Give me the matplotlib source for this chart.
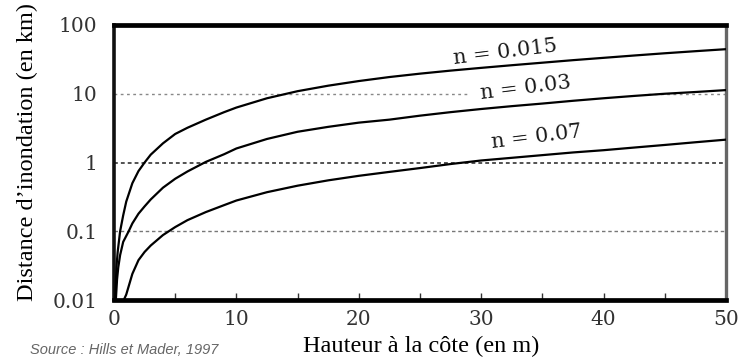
import matplotlib.pyplot as plt
from matplotlib.ticker import FixedLocator, FixedFormatter

# hauteur a la cote (m) / distance d'inondation (km)
h_015 = [0.1, 0.2, 0.3, 0.5, 0.75, 1, 1.5, 2, 2.5, 3, 4, 5, 6, 7.5, 9, 10, 12.5, 15, 17.5,
         20, 22.5, 25, 27.5, 30, 32.5, 35, 37.5, 40, 42.5, 45, 47.5, 50]
d_015 = [0.01, 0.03, 0.05, 0.1, 0.17, 0.27, 0.5, 0.75, 1.0, 1.3, 1.9, 2.6, 3.2, 4.2, 5.4, 6.3, 8.6, 10.9, 13.1,
         15.3, 17.5, 19.6, 21.7, 23.8, 26.0, 28.3, 30.8, 33.3, 36.0, 38.8, 41.6, 44.5]

h_03 = [0.15, 0.25, 0.35, 0.5, 0.75, 1.2, 1.5, 2, 2.5, 3, 4, 5, 6, 7.5, 9, 10, 12.5, 15, 17.5,
        20, 22.5, 25, 27.5, 30, 32.5, 35, 37.5, 40, 42.5, 45, 47.5, 50]
d_03 = [0.01, 0.02, 0.03, 0.045, 0.07, 0.1, 0.13, 0.18, 0.23, 0.29, 0.43, 0.58, 0.74, 1.02, 1.32, 1.6, 2.2, 2.8, 3.3,
        3.8, 4.2, 4.8, 5.4, 6.0, 6.6, 7.2, 7.9, 8.6, 9.3, 10.0, 10.6, 11.3]

h_07 = [0.8, 1, 1.5, 2, 2.5, 3, 4, 5, 6, 7.5, 9, 10, 12.5, 15, 17.5,
        20, 22.5, 25, 27.5, 30, 32.5, 35, 37.5, 40, 42.5, 45, 47.5, 50]
d_07 = [0.01, 0.012, 0.024, 0.038, 0.05, 0.062, 0.088, 0.115, 0.145, 0.19, 0.24, 0.28, 0.37, 0.46, 0.55,
        0.64, 0.73, 0.83, 0.95, 1.07, 1.17, 1.28, 1.4, 1.51, 1.65, 1.8, 1.97, 2.15]

labels = ['n = 0.015', 'n = 0.03', 'n = 0.07']
label_pos = [(32.0, 40.0), (33.6, 12.1), (34.5, 2.35)]

y_ticks = [0.01, 0.1, 1, 10, 100]
y_ticklabels = ['0.01', '0.1', '1', '10', '100']
x_ticks = [0, 10, 20, 30, 40, 50]

fig = plt.figure(figsize=(7.43, 3.58), dpi=100)
ax = fig.add_axes([114 / 743, 1 - 300 / 358, 612 / 743, 275 / 358])

# lignes pointillees horizontales
ax.axhline(10, xmin=0, xmax=0.577, color='#888888', lw=1.0, ls=(0, (2, 2.5)), zorder=1)
ax.axhline(10, xmin=0.872, xmax=1, color='#888888', lw=1.0, ls=(0, (2, 2.5)), zorder=1)
ax.axhline(1, color='#222222', lw=1.1, ls=(0, (2.5, 2)), zorder=1)
ax.axhline(0.1, color='#777777', lw=1.0, ls=(0, (2.5, 2)), zorder=1)

for h, d in [(h_015, d_015), (h_03, d_03), (h_07, d_07)]:
    ax.plot(h, d, color='black', lw=1.6, zorder=3, solid_capstyle='round', solid_joinstyle='round')

for lab, (x, y) in zip(labels, label_pos):
    ax.text(x, y, lab, rotation=7, ha='center', va='center', fontsize=15,
            family='DejaVu Serif', color='#1a1a1a', zorder=2)

ax.set_yscale('log')
ax.set_xlim(0, 50)
ax.set_ylim(0.01, 100)

ax.yaxis.set_major_locator(FixedLocator(y_ticks))
ax.yaxis.set_major_formatter(FixedFormatter(y_ticklabels))
ax.yaxis.set_minor_locator(FixedLocator([]))
ax.tick_params(axis='y', length=0, pad=12, labelsize=14.5, labelcolor='#333333')
for t in ax.get_yticklabels():
    t.set_family('DejaVu Serif')

ax.set_xticks(x_ticks)
ax.set_xticks([5, 15, 25, 35, 45], minor=True)
ax.tick_params(axis='x', which='both', direction='in', length=5, width=1,
               color='#333333', pad=7, labelsize=14.5, labelcolor='#333333')
for t in ax.get_xticklabels():
    t.set_family('DejaVu Serif')

ax.spines['top'].set_linewidth(3.4)
ax.spines['bottom'].set_linewidth(3.4)
ax.spines['left'].set_linewidth(2.6)
ax.spines['left'].set_color('#111111')
ax.spines['right'].set_linewidth(2.4)
ax.spines['right'].set_color('#666666')

fig.text(421 / 743, 1 - 346 / 358, 'Hauteur à la côte (en m)', ha='center', va='center',
         fontsize=17.5, family='Liberation Serif', color='black')
fig.text(27 / 743, 1 - 152 / 358, 'Distance d’inondation (en km)', ha='center', va='center',
         rotation=90, fontsize=17.5, family='Liberation Serif', color='black')
fig.text(30 / 743, 1 - 343 / 358, 'Source : Hills et Mader, 1997', ha='left', va='top',
         fontsize=10.5, style='italic', family='Liberation Sans', color='#666666')

fig.savefig('out.png', dpi=100)
